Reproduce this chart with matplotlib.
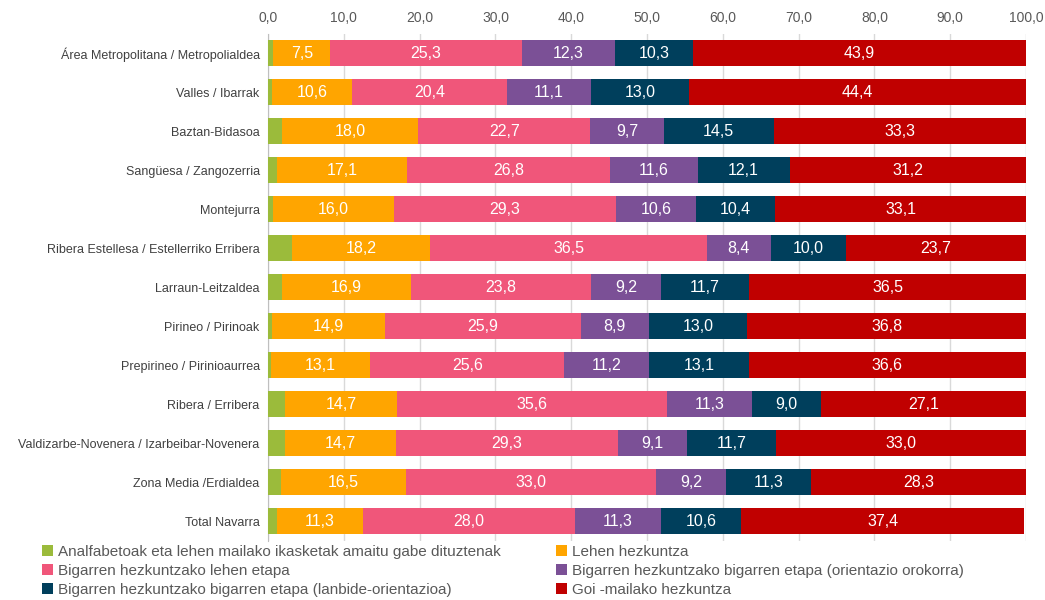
import matplotlib.pyplot as plt
import numpy as np

plt.rcParams['font.family'] = ['Liberation Sans', 'DejaVu Sans']

regions = ['Área Metropolitana / Metropolialdea', 'Valles / Ibarrak', 'Baztan-Bidasoa',
           'Sangüesa / Zangozerria', 'Montejurra', 'Ribera Estellesa / Estellerriko Erribera',
           'Larraun-Leitzaldea', 'Pirineo / Pirinoak', 'Prepirineo / Pirinioaurrea',
           'Ribera / Erribera', 'Valdizarbe-Novenera / Izarbeibar-Novenera',
           'Zona Media /Erdialdea', 'Total Navarra']

analf = [0.7, 0.5, 1.8, 1.2, 0.6, 3.2, 1.9, 0.5, 0.4, 2.3, 2.2, 1.7, 1.2]
lehen = [7.5, 10.6, 18.0, 17.1, 16.0, 18.2, 16.9, 14.9, 13.1, 14.7, 14.7, 16.5, 11.3]
big_lehen = [25.3, 20.4, 22.7, 26.8, 29.3, 36.5, 23.8, 25.9, 25.6, 35.6, 29.3, 33.0, 28.0]
big_oro = [12.3, 11.1, 9.7, 11.6, 10.6, 8.4, 9.2, 8.9, 11.2, 11.3, 9.1, 9.2, 11.3]
big_lan = [10.3, 13.0, 14.5, 12.1, 10.4, 10.0, 11.7, 13.0, 13.1, 9.0, 11.7, 11.3, 10.6]
goi = [43.9, 44.4, 33.3, 31.2, 33.1, 23.7, 36.5, 36.8, 36.6, 27.1, 33.0, 28.3, 37.4]

series = [analf, lehen, big_lehen, big_oro, big_lan, goi]
names = ['Analfabetoak eta lehen mailako ikasketak amaitu gabe dituztenak',
         'Lehen hezkuntza',
         'Bigarren hezkuntzako lehen etapa',
         'Bigarren hezkuntzako bigarren etapa (orientazio orokorra)',
         'Bigarren hezkuntzako bigarren etapa (lanbide-orientazioa)',
         'Goi -mailako hezkuntza']
colors = ['#9BBB3B', '#FFA500', '#F0567A', '#7B5096', '#003F5C', '#C00000']
show_labels = [False, True, True, True, True, True]

fig = plt.figure(figsize=(10.45, 6), dpi=100)
ax = fig.add_axes([0.2565, 0.099, 0.7253, 0.845])

y = np.arange(len(regions))
left = np.zeros(len(regions))
handles = []
for vals, name, c, lab in zip(series, names, colors, show_labels):
    vals = np.array(vals)
    b = ax.barh(y, vals, left=left, height=0.67, color=c, label=name, zorder=3)
    handles.append(b)
    if lab:
        for yi, l, v in zip(y, left, vals):
            ax.text(l + v / 2, yi, f'{v:.1f}'.replace('.', ','), ha='center', va='center',
                    color='white', fontsize=11.5, zorder=4)
    left += vals

ax.set_xlim(0, 100)
ax.set_ylim(len(regions) - 0.5, -0.5)
ax.set_yticks(y)
ax.set_yticklabels(regions, fontsize=9, color='#404040')
xt = np.arange(0, 101, 10)
ax.set_xticks(xt)
ax.set_xticklabels([f'{v:.1f}'.replace('.', ',') for v in xt], fontsize=10, color='#595959')
ax.xaxis.tick_top()
ax.tick_params(axis='both', length=0, pad=6)
ax.grid(axis='x', color='#D9D9D9', linewidth=1, zorder=0)
for s in ['top', 'right', 'bottom']:
    ax.spines[s].set_visible(False)
ax.spines['left'].set_color('#BFBFBF')

order = [0, 2, 4, 1, 3, 5]
leg = fig.legend([handles[i] for i in order], [names[i] for i in order], ncol=2,
                 loc='lower left', bbox_to_anchor=(0.027, -0.018), frameon=False,
                 fontsize=11, handlelength=0.75, handleheight=0.75, handletextpad=0.3,
                 labelspacing=0.33, columnspacing=3.6)
for t in leg.get_texts():
    t.set_color('#595959')

fig.savefig('out.png', dpi=100)
